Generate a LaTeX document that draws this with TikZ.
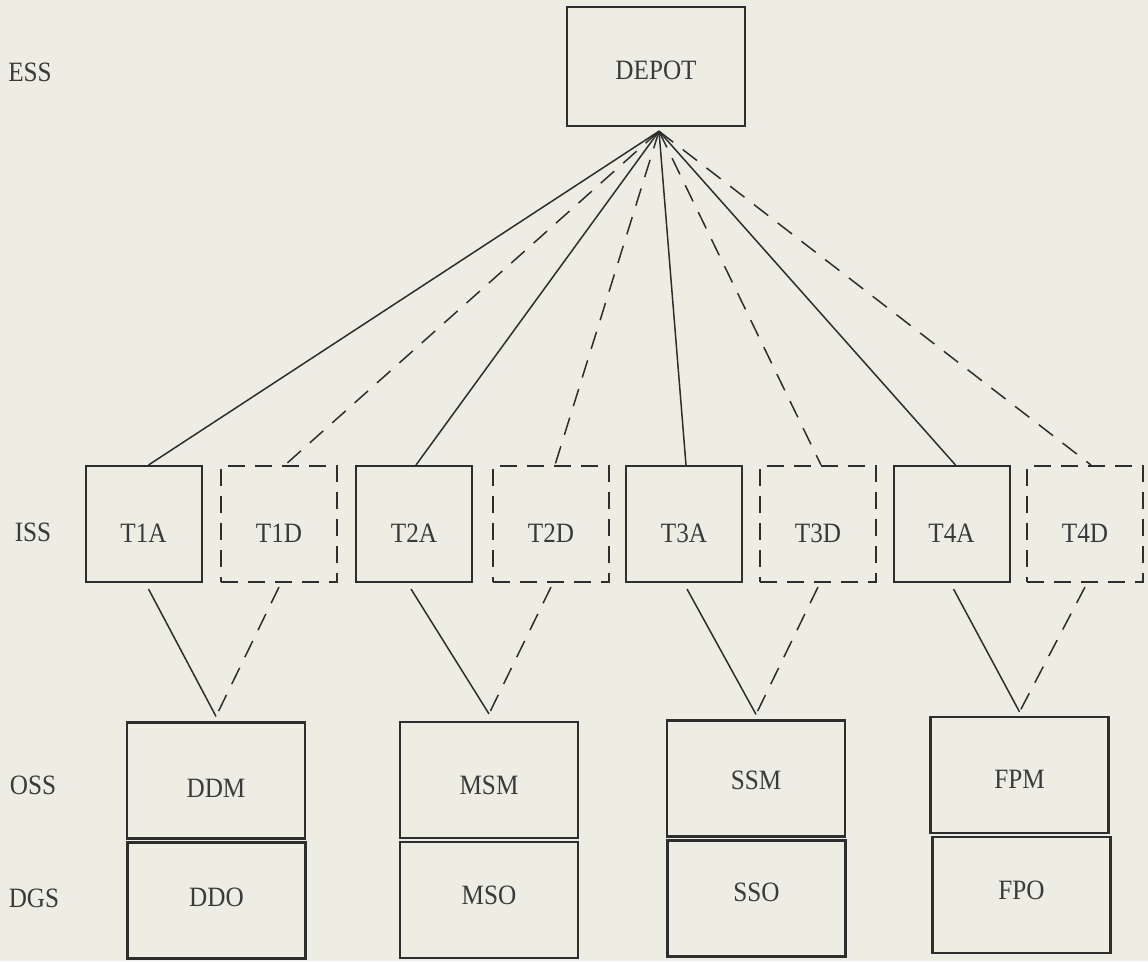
\documentclass[tikz,border=0pt]{standalone}
\usepackage{fontspec}
\setmainfont{Liberation Serif}[FakeStretch=0.9]
\usetikzlibrary{calc}
\definecolor{paper}{HTML}{EDEDE3}
\definecolor{ink}{HTML}{2E2E2E}
\definecolor{textink}{HTML}{3A3A3A}
\begin{document}
\begin{tikzpicture}[x=1pt,y=-1pt,
  lbl/.style={text=textink, font=\fontsize{28}{30}\selectfont, inner sep=0pt},
  box/.style={lbl, draw=ink, line width=2pt, minimum width=116pt, minimum height=116pt},
  dbox/.style={box, dash pattern=on 17pt off 10pt},
  lowbox/.style={box, line width=2.2pt, minimum width=178pt, minimum height=116pt},
  % moves the caption inside a box down (larger value) or up (smaller value)
  txt/.style={text height=#1, text depth=0pt},
  link/.style={draw=ink, line width=1.5pt},
  dlink/.style={link, dash pattern=on 18pt off 12pt}
]
% page
\fill[paper] (0,0) rectangle (1148,961);
\useasboundingbox (0,0) rectangle (1148,961);

% level names
\node[lbl] (ess) at (30,72)  {ESS};
\node[lbl] (iss) at (33,532) {ISS};
\node[lbl] (oss) at (33,785) {OSS};
\node[lbl] (dgs) at (34,898) {DGS};

% top echelon
\node[box, txt=25.5pt, minimum width=178pt, minimum height=119pt, line width=2.4pt] (depot) at (656,66.5) {DEPOT};

% intermediate echelon
\begin{scope}[every node/.append style={txt=36.5pt}]
\node[box]  (t1a) at (143.5,524) {T1A};
\node[dbox] (t1d) at (279,524)   {T1D};
\node[box]  (t2a) at (414,524)   {T2A};
\node[dbox] (t2d) at (551,524)   {T2D};
\node[box]  (t3a) at (684,524)   {T3A};
\node[dbox] (t3d) at (818,524)   {T3D};
\node[box]  (t4a) at (951.5,524) {T4A};
\node[dbox] (t4d) at (1085,524)  {T4D};
\end{scope}

% organizational and direct support
\node[lowbox, txt=33.5pt] (ddm) at (216,780.5)  {DDM};
\node[lowbox, txt=12.5pt] (ddo) at (216.5,900.5){DDO};
\node[lowbox, txt=28.5pt] (msm) at (489,780)    {MSM};
\node[lowbox, txt=8.5pt]  (mso) at (489,900)    {MSO};
\node[lowbox, txt=21.5pt] (ssm) at (756,778.5)  {SSM};
\node[lowbox, txt=5.5pt]  (sso) at (756.5,898.5){SSO};
\node[lowbox, txt=26.5pt] (fpm) at (1019.5,775) {FPM};
\node[lowbox, txt=8.5pt]  (fpo) at (1021.5,895) {FPO};

% fan-out from the depot
\coordinate (apex) at ($(depot.south)+(3,4)$);
\draw[link]  (apex) -- ([xshift=5pt]t1a.north);
\draw[dlink] (apex) -- ([xshift=6pt]t1d.north);
\draw[link]  (apex) -- ([xshift=2pt]t2a.north);
\draw[dlink] (apex) -- ([xshift=4pt]t2d.north);
\draw[link]  (apex) -- ([xshift=2pt]t3a.north);
\draw[dlink] (apex) -- ([xshift=3pt]t3d.north);
\draw[link]  (apex) -- ([xshift=4pt]t4a.north);
\draw[dlink] (apex) -- ([xshift=6pt]t4d.north);

% pairs feeding each lower box
\draw[link]  ([xshift=5pt,yshift=-6pt]t1a.south) -- ([yshift=5pt]ddm.north);
\draw[dlink] ([yshift=-4pt]t1d.south) -- ([yshift=5pt]ddm.north);
\draw[link]  ([xshift=-3pt,yshift=-6pt]t2a.south) -- ([yshift=7pt]msm.north);
\draw[dlink] ([yshift=-4pt]t2d.south) -- ([yshift=7pt]msm.north);
\draw[link]  ([xshift=3pt,yshift=-6pt]t3a.south) -- ([yshift=5pt]ssm.north);
\draw[dlink] ([yshift=-4pt]t3d.south) -- ([yshift=5pt]ssm.north);
\draw[link]  ([xshift=2pt,yshift=-6pt]t4a.south) -- ([yshift=4pt]fpm.north);
\draw[dlink] ([yshift=-4pt]t4d.south) -- ([yshift=4pt]fpm.north);
\end{tikzpicture}
\end{document}
